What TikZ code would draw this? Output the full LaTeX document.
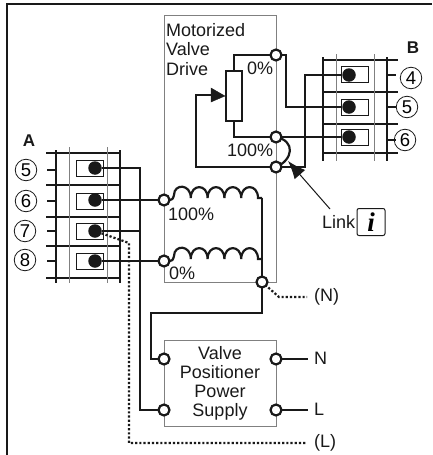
\documentclass[tikz,border=0pt]{standalone}
\usepackage{fontspec}
\setmainfont{Liberation Sans}
\usetikzlibrary{arrows.meta}
\newfontfamily\serifbi{Liberation Serif}[BoldItalicFont={* Bold Italic}]
\definecolor{boxgray}{gray}{0.5}
\definecolor{ink}{gray}{0.1}
\tikzset{
 x=1pt,y=-1pt,
 wire/.style={line width=2.2pt,ink,line join=miter},
 dotwire/.style={line width=2.2pt,ink,dash pattern=on 2.2pt off 2pt},
 gbox/.style={draw=boxgray,line width=.8pt},
 term/.style={circle,draw=ink,line width=2.2pt,fill=white,minimum size=11pt,inner sep=0pt},
 blob/.style={circle,fill=ink,minimum size=13.5pt,inner sep=0pt},
 cnum/.style={circle,draw=ink,line width=.8pt,minimum size=21.5pt,inner sep=0pt,font=\fontsize{18.5}{18.5}\selectfont},
 lab/.style={inner sep=0pt,font=\fontsize{18}{18}\selectfont,text=ink},
 bold/.style={inner sep=0pt,font=\fontsize{17}{17}\selectfont\bfseries,text=ink},
 tbox/.style={draw=ink,line width=.9pt,minimum width=27pt,minimum height=16pt,inner sep=0pt},
 hbar/.style={line width=1.6pt,ink},
 vthick/.style={line width=1.8pt,ink},
 vthin/.style={line width=1pt,gray},
}
\begin{document}
\begin{tikzpicture}
\useasboundingbox (0,0) rectangle (432,455);
% frame
\draw[line width=1.4pt,ink] (7,455) -- (7,4) -- (432,4);
% boxes
\node[gbox,minimum width=112pt,minimum height=267pt,inner sep=0pt] (drive) at (220,148.5) {};
\node[gbox,minimum width=112pt,minimum height=86pt,inner sep=0pt,align=center] (psu) at (220,383) {};
\node[lab,anchor=north west,align=left] (drivetxt) at (166,23) {Motorized\\[1.5pt]Valve\\[1.5pt]Drive};
\node[lab,align=center] (psutxt) at (220,383) {Valve\\[1pt]Positioner\\[1pt]Power\\[1pt]Supply};
% terminal block A
\foreach \y in {153,185,217,246,278} \draw[hbar] (46,\y) -- (120,\y);
\foreach \y in {170,201,231,261} \draw[hbar] (47,\y) -- (56,\y);
\draw[vthick] (56,150) -- (56,283);
\draw[vthick] (120,150) -- (120,283);
\draw[vthin] (69,147) -- (69,283);
\draw[vthin] (107,147) -- (107,283);
\node[tbox] (a5b) at (89.5,168) {};
\node[tbox] (a6b) at (89.5,201) {};
\node[tbox] (a7b) at (89.5,231) {};
\node[tbox] (a8b) at (89.5,261) {};
\node[blob] (a5) at (95,168) {};
\node[blob] (a6) at (95,200) {};
\node[blob] (a7) at (95,231) {};
\node[blob] (a8) at (95,261) {};
\node[cnum] (na5) at (26,170) {5};
\node[cnum] (na6) at (26,201) {6};
\node[cnum] (na7) at (25,231) {7};
\node[cnum] (na8) at (25,260) {8};
\node[bold] (la) at (29,141) {A};
% terminal block B
\foreach \y in {60,92,124,153} \draw[hbar] (323,\y) -- (398,\y);
\foreach \y in {75,107,140} \draw[hbar] (387,\y) -- (396,\y);
\draw[vthick] (323,57) -- (323,161);
\draw[vthick] (387,57) -- (387,161);
\draw[vthin] (336,54) -- (336,161);
\draw[vthin] (374,54) -- (374,161);
\node[tbox] (b4b) at (354.5,74.5) {};
\node[tbox] (b5b) at (354.5,107.5) {};
\node[tbox] (b6b) at (354.5,137.5) {};
\node[blob] (b4) at (349,75) {};
\node[blob] (b5) at (349,107) {};
\node[blob] (b6) at (349,137) {};
\node[cnum] (nb4) at (411,78) {4};
\node[cnum] (nb5) at (407,107) {5};
\node[cnum] (nb6) at (405,140) {6};
\node[bold] (lb) at (413,48) {B};
% coordinates
\coordinate (t0) at (276,55);
\coordinate (t100) at (276,137);
\coordinate (tw) at (276,167);
\coordinate (c100) at (164,200);
\coordinate (c0) at (164,261);
\coordinate (cn) at (262,282);
\coordinate (pl1) at (164,359);
\coordinate (pl2) at (164,410);
\coordinate (pr1) at (276,359);
\coordinate (pr2) at (276,410);
% potentiometer
\node[draw=ink,line width=2.2pt,fill=white,minimum width=16pt,minimum height=50pt,inner sep=0pt] (pot) at (234,96) {};
\draw[wire] (pot.north) |- (t0);
\draw[wire] (pot.south) |- (t100);
\draw[wire] (tw) -- (196,167) -- (196,95) -- (214,95);
\draw[ink,fill=ink] (pot.west) -- (211,88) -- (211,102) -- cycle;
% outgoing right
\draw[wire] (t0) -- (286,55) -- (286,107) -- (b5);
\draw[wire] (t100) -- (b6);
\draw[wire] (tw) -- (305,167) -- (305,75) -- (b4);
\draw[wire] (t100) .. controls (296,141) and (293,160) .. (tw);
% coils
\foreach \yy in {200,261}{
 \draw[wire] (164,\yy) -- (170,\yy) .. controls (172,\yy) and (173,\yy-1) .. (174,\yy-5)
 \foreach \k in {0,1,2,3,4}{
  .. controls ({174+\k*16.8},{\yy-16.5}) and ({174+(\k+1)*16.8},{\yy-16.5}) .. ({174+(\k+1)*16.8},{\yy-2})
 } -- (262,\yy-2);
}
\draw[wire] (262,198) -- (cn);
% wires A
\draw[wire] (a5) -- (140,168) -- (140,410) -- (pl2);
\draw[wire] (a7) -- (140,231);
\draw[wire] (a6) -- (c100);
\draw[wire] (a8) -- (c0);
\draw[dotwire] (a7) -- (129,243) -- (129,443) -- (306,443);
% N
\draw[wire] (cn) -- (262,313) -- (151,313) -- (151,359) -- (pl1);
\draw[dotwire] (cn) -- (279,297) -- (307,297);
\draw[wire] (pr1) -- (308,359);
\draw[wire] (pr2) -- (308,410);
% terminals
\foreach \n/\c in {nt0/t0,nt100/t100,ntw/tw,nc100/c100,nc0/c0,ncn/cn,npl1/pl1,npl2/pl2,npr1/pr1,npr2/pr2}
 \node[term] (\n) at (\c) {};
% labels
\node[lab,anchor=west] (l0) at (247,68) {0\%};
\node[lab,anchor=west] (l100) at (227,150) {100\%};
\node[lab,anchor=west] (lc100) at (168,214) {100\%};
\node[lab,anchor=west] (lc0) at (169,273) {0\%};
\node[lab,anchor=west] (ln) at (314,297) {(N)};
\node[lab,anchor=west] (ll) at (314,443) {(L)};
\node[lab,anchor=west] (pn) at (314,358) {N};
\node[lab,anchor=west] (pll) at (314,409) {L};
\node[lab,anchor=west] (link) at (322,222) {Link};
\node[draw=ink,line width=1pt,rounded corners=2pt,minimum width=28pt,minimum height=27pt,inner sep=0pt,font=\fontsize{27}{27}\serifbi\bfseries\itshape] (info) at (371,222) {i};
\coordinate (lnk) at (288,161);
\draw[line width=1pt,ink,-{Latex[length=18pt,width=14pt]}] (330,209) -- (lnk);
\end{tikzpicture}
\end{document}
